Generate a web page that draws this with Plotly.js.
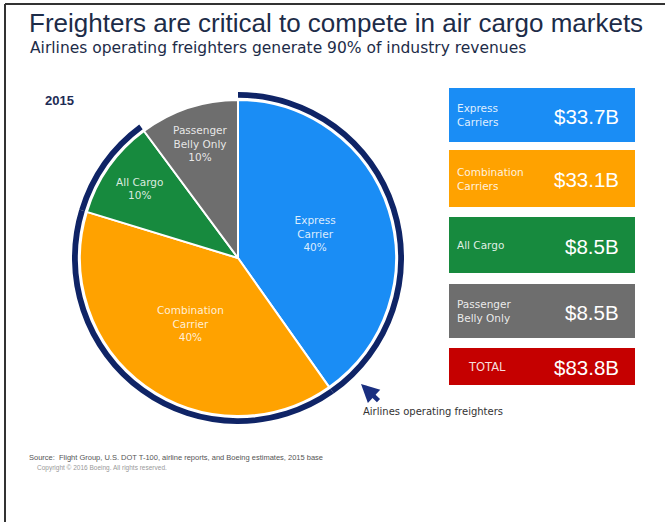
<!DOCTYPE html>
<html>
<head>
<meta charset="utf-8">
<script src="https://cdn.plot.ly/plotly-3.0.1.min.js"></script>
<style>html,body{margin:0;padding:0;background:#fff;}#chart{width:665px;height:522px;}</style>
</head>
<body>
<div id="chart"></div>
<script>
// ---- data ----
var segments = ['Express Carrier', 'Combination Carrier', 'All Cargo', 'Passenger Belly Only'];
var pieLabels = ['Express<br>Carrier<br>40%', 'Combination<br>Carrier<br>40%', 'All Cargo<br>10%', 'Passenger<br>Belly Only<br>10%'];
var revenueB = [33.7, 33.1, 8.5, 8.5];
var boxLabels = ['Express<br>Carriers', 'Combination<br>Carriers', 'All Cargo', 'Passenger<br>Belly Only'];
var totalLabel = 'TOTAL';
var totalB = 83.8;
var operatesFreighters = [true, true, true, false];
var colors = ['#1a8df5', '#ffa200', '#178a3e', '#6e6e6e'];
var totalColor = '#c50000';
var navy = '#0f2466';

var W = 665, H = 522;
function px(x) { return x / W; }
function py(y) { return 1 - y / H; }

var fnt = 'Liberation Sans, Arial, sans-serif';
var wide = 'DejaVu Sans, Verdana, sans-serif';

var traces = [
  {
    type: 'pie',
    values: revenueB,
    labels: segments,
    sort: false,
    direction: 'clockwise',
    rotation: 0,
    hole: 0.965,
    marker: {colors: operatesFreighters.map(function (f) { return f ? navy : 'rgba(0,0,0,0)'; }), line: {width: 0}},
    textinfo: 'none',
    hoverinfo: 'skip',
    domain: {x: [px(72), px(404)], y: [98 / H, 430 / H]},
    showlegend: false
  },
  {
    type: 'pie',
    values: revenueB,
    labels: segments,
    text: pieLabels,
    textinfo: 'text',
    textposition: 'inside',
    insidetextorientation: 'horizontal',
    insidetextfont: {family: wide, size: 10.5, color: 'rgba(255,255,255,0.85)'},
    sort: false,
    direction: 'clockwise',
    rotation: 0,
    marker: {colors: colors, line: {color: '#ffffff', width: 2}},
    hoverinfo: 'label+value',
    domain: {x: [px(80), px(396)], y: [106 / H, 422 / H]},
    showlegend: false
  }
];

var shapes = [
  {type: 'line', xref: 'paper', yref: 'paper', x0: px(5), x1: 1, y0: py(4), y1: py(4), line: {color: '#333', width: 2}},
  {type: 'line', xref: 'paper', yref: 'paper', x0: px(5), x1: px(5), y0: py(4), y1: 0, line: {color: '#333', width: 2}}
];

var boxTops = [88, 150, 217, 284, 348];
var boxBottoms = [142, 207, 273, 338, 385];
var annotations = [];

annotations.push({xref: 'paper', yref: 'paper', x: px(27), y: py(23), xanchor: 'left', yanchor: 'middle', showarrow: false,
  text: 'Freighters are critical to compete in air cargo markets', font: {family: fnt, size: 26, color: '#1d2c48'}});
annotations.push({xref: 'paper', yref: 'paper', x: px(28), y: py(48), xanchor: 'left', yanchor: 'middle', showarrow: false,
  text: 'Airlines operating freighters generate 90% of industry revenues', font: {family: wide, size: 15.5, color: '#1d2c48'}});
annotations.push({xref: 'paper', yref: 'paper', x: px(43), y: py(100), xanchor: 'left', yanchor: 'middle', showarrow: false,
  text: '<b>2015</b>', font: {family: fnt, size: 13, color: '#1d2c55'}});

var allLabels = boxLabels.concat([totalLabel]);
var allVals = revenueB.concat([totalB]);
var allColors = colors.concat([totalColor]);
for (var i = 0; i < allLabels.length; i++) {
  shapes.push({type: 'rect', xref: 'paper', yref: 'paper', x0: px(449), x1: px(635), y0: py(boxBottoms[i]), y1: py(boxTops[i]),
    fillcolor: allColors[i], line: {width: 0}});
  var mid = (boxTops[i] + boxBottoms[i]) / 2;
  var isTotal = i === allLabels.length - 1;
  annotations.push({xref: 'paper', yref: 'paper', x: px(isTotal ? 487 : 455), y: py(mid), xanchor: isTotal ? 'center' : 'left', yanchor: 'middle',
    showarrow: false, align: 'left', text: allLabels[i], font: {family: wide, size: isTotal ? 11.5 : 10.5, color: 'rgba(255,255,255,0.88)'}});
  annotations.push({xref: 'paper', yref: 'paper', x: px(621), y: py(mid + 1), xanchor: 'right', yanchor: 'middle',
    showarrow: false, text: '$' + allVals[i].toFixed(1) + 'B', font: {family: fnt, size: 20.5, color: '#ffffff'}});
}

annotations.push({xref: 'paper', yref: 'paper', x: px(361), y: py(384), showarrow: true, ax: 19, ay: 18,
  arrowhead: 2, arrowsize: 0.8, arrowwidth: 4.5, arrowcolor: '#1a2f80', text: '', standoff: 0, startstandoff: 0});
annotations.push({xref: 'paper', yref: 'paper', x: px(361), y: py(411), xanchor: 'left', yanchor: 'middle', showarrow: false,
  text: 'Airlines operating freighters', font: {family: wide, size: 10, color: '#333'}});
annotations.push({xref: 'paper', yref: 'paper', x: px(27), y: py(457), xanchor: 'left', yanchor: 'middle', showarrow: false,
  text: 'Source:  Flight Group, U.S. DOT T-100, airline reports, and Boeing estimates, 2015 base', font: {family: fnt, size: 7.5, color: '#555'}});
annotations.push({xref: 'paper', yref: 'paper', x: px(35), y: py(468), xanchor: 'left', yanchor: 'middle', showarrow: false,
  text: 'Copyright © 2016 Boeing. All rights reserved.', font: {family: fnt, size: 6.5, color: '#999'}});

var layout = {
  width: W, height: H,
  margin: {l: 0, r: 0, t: 0, b: 0},
  paper_bgcolor: '#ffffff',
  plot_bgcolor: '#ffffff',
  showlegend: false,
  shapes: shapes,
  annotations: annotations
};

Plotly.newPlot('chart', traces, layout, {displayModeBar: false, staticPlot: true});
</script>
</body>
</html>
